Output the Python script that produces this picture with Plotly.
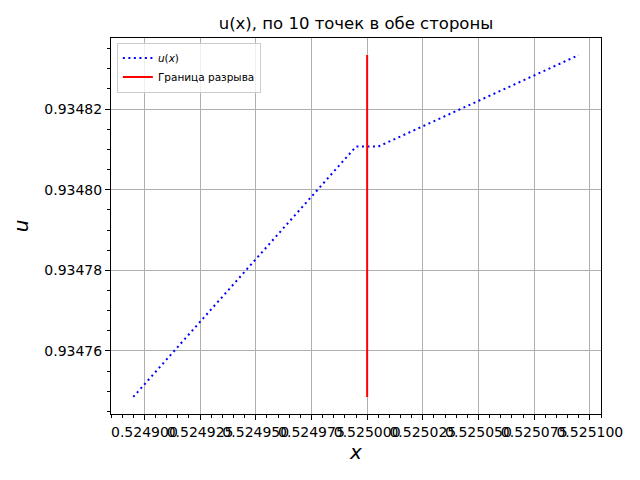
import plotly.graph_objects as go

# точки слева и справа от разрыва
x_left = [0.524895, 0.524905, 0.524915, 0.524925, 0.524935, 0.524945,
          0.524955, 0.524965, 0.524975, 0.524985, 0.524995]
u_left = [0.9347486, 0.9347548, 0.9347610, 0.9347672, 0.9347734, 0.9347797,
          0.9347859, 0.9347921, 0.9347983, 0.9348045, 0.9348107]
x_right = [0.525005, 0.525015, 0.525025, 0.525035, 0.525045,
           0.525055, 0.525065, 0.525075, 0.525085, 0.525095]
u_right = [0.9348107, 0.9348132, 0.9348157, 0.9348183, 0.9348208,
           0.9348233, 0.9348258, 0.9348283, 0.9348309, 0.9348334]
x_break = 0.525

x_all = x_left + x_right
u_all = u_left + u_right

font = 'DejaVu Sans, sans-serif'

traces = [
    go.Scatter(x=x_all, y=u_all, mode='lines', name='<i>u</i>(<i>x</i>)',
               line=dict(color='blue', width=2, dash='2px,3.5px')),
    go.Scatter(x=[x_break, x_break], y=[min(u_all), max(u_all)], mode='lines',
               name='Граница разрыва', line=dict(color='red', width=2)),
]

axis_common = dict(
    showgrid=True, gridcolor='#b0b0b0', gridwidth=1,
    showline=True, linecolor='black', linewidth=1, mirror=True,
    ticks='outside', ticklen=5, tickcolor='black',
    tickfont=dict(family=font, size=14, color='black'),
    zeroline=False,
)

xr = max(x_all) - min(x_all)
ur = max(u_all) - min(u_all)

# страница сдвигает график (отступ body), поля подобраны с учётом этого
layout = go.Layout(
    width=640, height=480,
    margin=dict(l=96, r=47, t=30, b=74),
    paper_bgcolor='white', plot_bgcolor='white',
    font=dict(family=font, color='black'),
    title=dict(text='u(x), по 10 точек в обе стороны', x=0.5, xref='paper',
               xanchor='center', y=0.969, yanchor='middle',
               font=dict(size=16.5)),
    xaxis=dict(axis_common,
               range=[min(x_all) - 0.05 * xr, max(x_all) + 0.05 * xr],
               tick0=0.5249, dtick=0.000025, tickformat='.6f', tickangle=0,
               minor=dict(dtick=0.000005, ticks='outside', ticklen=3,
                          tickcolor='black', showgrid=False),
               title=dict(text='<i>x</i>', font=dict(size=20), standoff=6)),
    yaxis=dict(axis_common,
               range=[min(u_all) - 0.05 * ur, max(u_all) + 0.05 * ur],
               tick0=0.93476, dtick=0.00002, tickformat='.5f',
               minor=dict(dtick=0.000005, ticks='outside', ticklen=3,
                          tickcolor='black', showgrid=False),
               title=dict(text='<i>u</i>', font=dict(size=20), standoff=10)),
    legend=dict(x=0.012, y=0.988, xanchor='left', yanchor='top',
                bgcolor='rgba(255,255,255,0.8)', bordercolor='#cccccc',
                borderwidth=1, font=dict(size=10.5), tracegroupgap=0),
    showlegend=True,
)

fig = go.Figure(data=traces, layout=layout)
fig.write_html('out.html')
